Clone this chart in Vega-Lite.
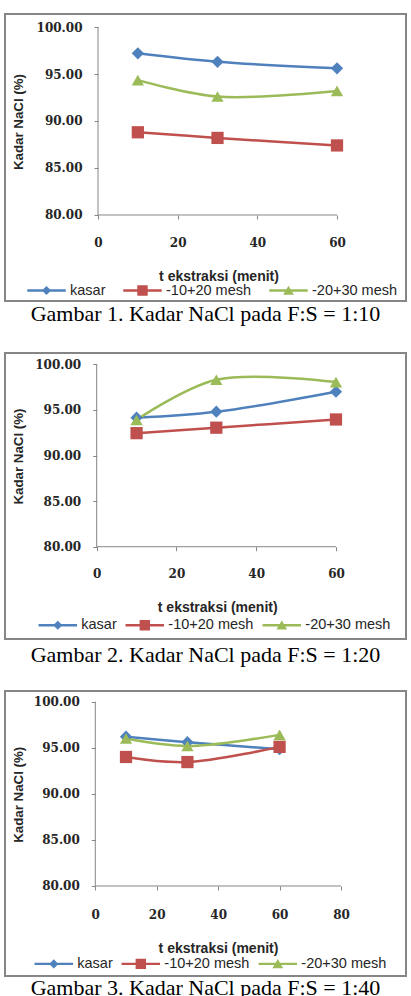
{
  "$schema": "https://vega.github.io/schema/vega-lite/v6.json",
  "padding": {"left": 4, "top": 13, "right": 0, "bottom": 0},
  "background": "white",
  "spacing": 52,
  "bounds": "flush",
  "config": {
    "view": {"stroke": "#868686", "strokeWidth": 2},
    "title": {"font": "Liberation Serif", "fontSize": 22, "fontWeight": "normal", "color": "#000000", "anchor": "middle"},
    "axis": {"domain": false, "grid": false, "tickSize": 4, "tickColor": "#868686", "tickWidth": 1, "labelFont": "DejaVu Serif", "labelFontWeight": "bold", "labelFontSize": 12, "labelColor": "#262626", "labelFlush": false, "labelOverlap": false, "titleFont": "Liberation Sans", "titleFontWeight": "bold", "titleColor": "#262626", "titleBaseline": "middle", "titleAlign": "center"},
    "axisX": {"titleFontSize": 14},
    "axisY": {"titleFontSize": 13.3}
  },
  "datasets": {
    "p1": [
      {"t": 10, "series": "kasar", "kadar": 97.2},
      {"t": 30, "series": "kasar", "kadar": 96.3},
      {"t": 60, "series": "kasar", "kadar": 95.6},
      {"t": 10, "series": "-10+20 mesh", "kadar": 88.8},
      {"t": 30, "series": "-10+20 mesh", "kadar": 88.2},
      {"t": 60, "series": "-10+20 mesh", "kadar": 87.4},
      {"t": 10, "series": "-20+30 mesh", "kadar": 94.35},
      {"t": 30, "series": "-20+30 mesh", "kadar": 92.6},
      {"t": 60, "series": "-20+30 mesh", "kadar": 93.2}
    ],
    "p2": [
      {"t": 10, "series": "kasar", "kadar": 94.15},
      {"t": 30, "series": "kasar", "kadar": 94.8},
      {"t": 60, "series": "kasar", "kadar": 97.0},
      {"t": 10, "series": "-10+20 mesh", "kadar": 92.45},
      {"t": 30, "series": "-10+20 mesh", "kadar": 93.05},
      {"t": 60, "series": "-10+20 mesh", "kadar": 93.95},
      {"t": 10, "series": "-20+30 mesh", "kadar": 93.9},
      {"t": 30, "series": "-20+30 mesh", "kadar": 98.3},
      {"t": 60, "series": "-20+30 mesh", "kadar": 98.05}
    ],
    "p3": [
      {"t": 10, "series": "kasar", "kadar": 96.2},
      {"t": 30, "series": "kasar", "kadar": 95.6},
      {"t": 60, "series": "kasar", "kadar": 94.85},
      {"t": 10, "series": "-10+20 mesh", "kadar": 94.0},
      {"t": 30, "series": "-10+20 mesh", "kadar": 93.45},
      {"t": 60, "series": "-10+20 mesh", "kadar": 95.1},
      {"t": 10, "series": "-20+30 mesh", "kadar": 96.0},
      {"t": 30, "series": "-20+30 mesh", "kadar": 95.2},
      {"t": 60, "series": "-20+30 mesh", "kadar": 96.4}
    ]
  },
  "vconcat": [
    {
      "width": 401,
      "height": 287,
      "title": {"text": "Gambar 1. Kadar NaCl pada F:S = 1:10", "orient": "bottom", "offset": 3},
      "data": {"name": "p1"},
      "resolve": {"scale": {"shape": "independent", "color": "independent"}},
      "layer": [
        {
          "data": {"values": [{}]},
          "mark": {"type": "rule", "color": "#868686", "strokeWidth": 1},
          "encoding": {
            "x": {"datum": 0, "type": "quantitative", "scale": {"domain": [-23.35, 77.32], "nice": false, "zero": false},
              "axis": {"values": [0, 20, 40, 60], "format": "d", "offset": -86, "labelPadding": 18, "title": "t ekstraksi (menit)", "titleX": 213.5, "titleY": 61.3}},
            "x2": {"datum": 60},
            "y": {"datum": 80, "type": "quantitative", "scale": {"domain": [70.851, 101.383], "nice": false, "zero": false},
              "axis": {"values": [80, 85, 90, 95, 100], "format": ".2f", "offset": -93, "labelPadding": 12, "title": "Kadar NaCl (%)", "titleX": -79.7, "titleY": 107.5, "titleAngle": -90}}
          }
        },
        {
          "data": {"values": [{}]},
          "mark": {"type": "rule", "color": "#868686", "strokeWidth": 1},
          "encoding": {
            "x": {"datum": 0, "type": "quantitative", "scale": {"domain": [-23.35, 77.32], "nice": false, "zero": false},
              "axis": {"values": [0, 20, 40, 60], "format": "d", "offset": -86, "labelPadding": 18, "title": "t ekstraksi (menit)", "titleX": 213.5, "titleY": 61.3}},
            "y": {"datum": 80, "type": "quantitative", "scale": {"domain": [70.851, 101.383], "nice": false, "zero": false},
              "axis": {"values": [80, 85, 90, 95, 100], "format": ".2f", "offset": -93, "labelPadding": 12, "title": "Kadar NaCl (%)", "titleX": -79.7, "titleY": 107.5, "titleAngle": -90}},
            "y2": {"datum": 100}
          }
        },
        {
          "mark": {"type": "line", "interpolate": "catmull-rom", "strokeWidth": 2.5},
          "encoding": {
            "x": {"field": "t", "type": "quantitative", "scale": {"domain": [-23.35, 77.32], "nice": false, "zero": false},
              "axis": {"values": [0, 20, 40, 60], "format": "d", "offset": -86, "labelPadding": 18, "title": "t ekstraksi (menit)", "titleX": 213.5, "titleY": 61.3}},
            "y": {"field": "kadar", "type": "quantitative", "scale": {"domain": [70.851, 101.383], "nice": false, "zero": false},
              "axis": {"values": [80, 85, 90, 95, 100], "format": ".2f", "offset": -93, "labelPadding": 12, "title": "Kadar NaCl (%)", "titleX": -79.7, "titleY": 107.5, "titleAngle": -90}},
            "color": {"field": "series", "type": "nominal", "scale": {"domain": ["kasar", "-10+20 mesh", "-20+30 mesh"], "range": ["#4F81BD", "#C0504D", "#9BBB59"]}, "legend": null}
          }
        },
        {
          "mark": {"type": "point", "filled": true, "opacity": 1, "size": 150},
          "encoding": {
            "x": {"field": "t", "type": "quantitative", "scale": {"domain": [-23.35, 77.32], "nice": false, "zero": false},
              "axis": {"values": [0, 20, 40, 60], "format": "d", "offset": -86, "labelPadding": 18, "title": "t ekstraksi (menit)", "titleX": 213.5, "titleY": 61.3}},
            "y": {"field": "kadar", "type": "quantitative", "scale": {"domain": [70.851, 101.383], "nice": false, "zero": false},
              "axis": {"values": [80, 85, 90, 95, 100], "format": ".2f", "offset": -93, "labelPadding": 12, "title": "Kadar NaCl (%)", "titleX": -79.7, "titleY": 107.5, "titleAngle": -90}},
            "color": {"field": "series", "type": "nominal", "scale": {"domain": ["kasar", "-10+20 mesh", "-20+30 mesh"], "range": ["#4F81BD", "#C0504D", "#9BBB59"]}, "legend": null},
            "shape": {"field": "series", "type": "nominal", "scale": {"domain": ["kasar", "-10+20 mesh", "-20+30 mesh"], "range": ["diamond", "square", "triangle-up"]}, "legend": null}
          }
        },
        {
          "mark": {"type": "point", "filled": true, "opacity": 0},
          "encoding": {
            "x": {"field": "t", "type": "quantitative", "scale": {"domain": [-23.35, 77.32], "nice": false, "zero": false},
              "axis": {"values": [0, 20, 40, 60], "format": "d", "offset": -86, "labelPadding": 18, "title": "t ekstraksi (menit)", "titleX": 213.5, "titleY": 61.3}},
            "y": {"field": "kadar", "type": "quantitative", "scale": {"domain": [70.851, 101.383], "nice": false, "zero": false},
              "axis": {"values": [80, 85, 90, 95, 100], "format": ".2f", "offset": -93, "labelPadding": 12, "title": "Kadar NaCl (%)", "titleX": -79.7, "titleY": 107.5, "titleAngle": -90}},
            "color": {"field": "series", "type": "nominal", "scale": {"domain": ["kasar", "-10+20 mesh", "-20+30 mesh"], "range": ["#4F81BD", "#C0504D", "#9BBB59"]},
              "legend": {"orient": "none", "legendX": 22, "legendY": 257, "direction": "horizontal", "columns": 3, "title": null, "padding": 0, "symbolSize": 1482, "symbolStrokeWidth": 0, "symbolOpacity": 1, "labelFont": "Liberation Sans", "labelFontSize": 14.5, "labelColor": "#262626", "labelOffset": 4, "columnPadding": 17, "labelLimit": 200, "encode": {"symbols": {"update": {"opacity": {"value": 1}}}}}},
            "shape": {"field": "series", "type": "nominal", "scale": {"domain": ["kasar", "-10+20 mesh", "-20+30 mesh"], "range": ["M-1,-0.06H1V0.06H-1ZM-0.24,0L0,-0.24L0.24,0L0,0.24Z", "M-1,-0.06H1V0.06H-1ZM-0.27,-0.27H0.27V0.27H-0.27Z", "M-1,-0.06H1V0.06H-1ZM-0.28,0.22L0,-0.25L0.28,0.22Z"]},
              "legend": {"orient": "none", "legendX": 22, "legendY": 257, "direction": "horizontal", "columns": 3, "title": null, "padding": 0, "symbolSize": 1482, "symbolStrokeWidth": 0, "symbolOpacity": 1, "labelFont": "Liberation Sans", "labelFontSize": 14.5, "labelColor": "#262626", "labelOffset": 4, "columnPadding": 17, "labelLimit": 200, "encode": {"symbols": {"update": {"opacity": {"value": 1}}}}}}
          }
        }
      ]
    },
    {
      "width": 401,
      "height": 286,
      "title": {"text": "Gambar 2. Kadar NaCl pada F:S = 1:20", "orient": "bottom", "offset": 6},
      "data": {"name": "p2"},
      "resolve": {"scale": {"shape": "independent", "color": "independent"}},
      "layer": [
        {
          "data": {"values": [{}]},
          "mark": {"type": "rule", "color": "#868686", "strokeWidth": 1},
          "encoding": {
            "x": {"datum": 0, "type": "quantitative", "scale": {"domain": [-22.99, 77.56], "nice": false, "zero": false},
              "axis": {"values": [0, 20, 40, 60], "format": "d", "offset": -92.3, "labelPadding": 17.5, "title": "t ekstraksi (menit)", "titleX": 212.2, "titleY": 61}},
            "x2": {"datum": 60},
            "y": {"datum": 80, "type": "quantitative", "scale": {"domain": [69.88, 101.239], "nice": false, "zero": false},
              "axis": {"values": [80, 85, 90, 95, 100], "format": ".2f", "offset": -91.7, "labelPadding": 12, "title": "Kadar NaCl (%)", "titleX": -78.4, "titleY": 103, "titleAngle": -90}}
          }
        },
        {
          "data": {"values": [{}]},
          "mark": {"type": "rule", "color": "#868686", "strokeWidth": 1},
          "encoding": {
            "x": {"datum": 0, "type": "quantitative", "scale": {"domain": [-22.99, 77.56], "nice": false, "zero": false},
              "axis": {"values": [0, 20, 40, 60], "format": "d", "offset": -92.3, "labelPadding": 17.5, "title": "t ekstraksi (menit)", "titleX": 212.2, "titleY": 61}},
            "y": {"datum": 80, "type": "quantitative", "scale": {"domain": [69.88, 101.239], "nice": false, "zero": false},
              "axis": {"values": [80, 85, 90, 95, 100], "format": ".2f", "offset": -91.7, "labelPadding": 12, "title": "Kadar NaCl (%)", "titleX": -78.4, "titleY": 103, "titleAngle": -90}},
            "y2": {"datum": 100}
          }
        },
        {
          "mark": {"type": "line", "interpolate": "catmull-rom", "strokeWidth": 2.5},
          "encoding": {
            "x": {"field": "t", "type": "quantitative", "scale": {"domain": [-22.99, 77.56], "nice": false, "zero": false},
              "axis": {"values": [0, 20, 40, 60], "format": "d", "offset": -92.3, "labelPadding": 17.5, "title": "t ekstraksi (menit)", "titleX": 212.2, "titleY": 61}},
            "y": {"field": "kadar", "type": "quantitative", "scale": {"domain": [69.88, 101.239], "nice": false, "zero": false},
              "axis": {"values": [80, 85, 90, 95, 100], "format": ".2f", "offset": -91.7, "labelPadding": 12, "title": "Kadar NaCl (%)", "titleX": -78.4, "titleY": 103, "titleAngle": -90}},
            "color": {"field": "series", "type": "nominal", "scale": {"domain": ["kasar", "-10+20 mesh", "-20+30 mesh"], "range": ["#4F81BD", "#C0504D", "#9BBB59"]}, "legend": null}
          }
        },
        {
          "mark": {"type": "point", "filled": true, "opacity": 1, "size": 150},
          "encoding": {
            "x": {"field": "t", "type": "quantitative", "scale": {"domain": [-22.99, 77.56], "nice": false, "zero": false},
              "axis": {"values": [0, 20, 40, 60], "format": "d", "offset": -92.3, "labelPadding": 17.5, "title": "t ekstraksi (menit)", "titleX": 212.2, "titleY": 61}},
            "y": {"field": "kadar", "type": "quantitative", "scale": {"domain": [69.88, 101.239], "nice": false, "zero": false},
              "axis": {"values": [80, 85, 90, 95, 100], "format": ".2f", "offset": -91.7, "labelPadding": 12, "title": "Kadar NaCl (%)", "titleX": -78.4, "titleY": 103, "titleAngle": -90}},
            "color": {"field": "series", "type": "nominal", "scale": {"domain": ["kasar", "-10+20 mesh", "-20+30 mesh"], "range": ["#4F81BD", "#C0504D", "#9BBB59"]}, "legend": null},
            "shape": {"field": "series", "type": "nominal", "scale": {"domain": ["kasar", "-10+20 mesh", "-20+30 mesh"], "range": ["diamond", "square", "triangle-up"]}, "legend": null}
          }
        },
        {
          "mark": {"type": "point", "filled": true, "opacity": 0},
          "encoding": {
            "x": {"field": "t", "type": "quantitative", "scale": {"domain": [-22.99, 77.56], "nice": false, "zero": false},
              "axis": {"values": [0, 20, 40, 60], "format": "d", "offset": -92.3, "labelPadding": 17.5, "title": "t ekstraksi (menit)", "titleX": 212.2, "titleY": 61}},
            "y": {"field": "kadar", "type": "quantitative", "scale": {"domain": [69.88, 101.239], "nice": false, "zero": false},
              "axis": {"values": [80, 85, 90, 95, 100], "format": ".2f", "offset": -91.7, "labelPadding": 12, "title": "Kadar NaCl (%)", "titleX": -78.4, "titleY": 103, "titleAngle": -90}},
            "color": {"field": "series", "type": "nominal", "scale": {"domain": ["kasar", "-10+20 mesh", "-20+30 mesh"], "range": ["#4F81BD", "#C0504D", "#9BBB59"]},
              "legend": {"orient": "none", "legendX": 33.3, "legendY": 252.75, "direction": "horizontal", "columns": 3, "title": null, "padding": 0, "symbolSize": 1482, "symbolStrokeWidth": 0, "symbolOpacity": 1, "labelFont": "Liberation Sans", "labelFontSize": 14.5, "labelColor": "#262626", "labelOffset": 4, "columnPadding": 8, "labelLimit": 200, "encode": {"symbols": {"update": {"opacity": {"value": 1}}}}}},
            "shape": {"field": "series", "type": "nominal", "scale": {"domain": ["kasar", "-10+20 mesh", "-20+30 mesh"], "range": ["M-1,-0.06H1V0.06H-1ZM-0.24,0L0,-0.24L0.24,0L0,0.24Z", "M-1,-0.06H1V0.06H-1ZM-0.27,-0.27H0.27V0.27H-0.27Z", "M-1,-0.06H1V0.06H-1ZM-0.28,0.22L0,-0.25L0.28,0.22Z"]},
              "legend": {"orient": "none", "legendX": 33.3, "legendY": 252.75, "direction": "horizontal", "columns": 3, "title": null, "padding": 0, "symbolSize": 1482, "symbolStrokeWidth": 0, "symbolOpacity": 1, "labelFont": "Liberation Sans", "labelFontSize": 14.5, "labelColor": "#262626", "labelOffset": 4, "columnPadding": 8, "labelLimit": 200, "encode": {"symbols": {"update": {"opacity": {"value": 1}}}}}}
          }
        }
      ]
    },
    {
      "width": 401,
      "height": 285,
      "title": {"text": "Gambar 3. Kadar NaCl pada F:S = 1:40", "orient": "bottom", "offset": 2},
      "data": {"name": "p3"},
      "resolve": {"scale": {"shape": "independent", "color": "independent"}},
      "layer": [
        {
          "data": {"values": [{}]},
          "mark": {"type": "rule", "color": "#868686", "strokeWidth": 1},
          "encoding": {
            "x": {"datum": 0, "type": "quantitative", "scale": {"domain": [-29.4, 101.17], "nice": false, "zero": false},
              "axis": {"values": [0, 20, 40, 60, 80], "format": "d", "offset": -90, "labelPadding": 19, "title": "t ekstraksi (menit)", "titleX": 213, "titleY": 62.7}},
            "x2": {"datum": 80},
            "y": {"datum": 80, "type": "quantitative", "scale": {"domain": [70.233, 101.161], "nice": false, "zero": false},
              "axis": {"values": [80, 85, 90, 95, 100], "format": ".2f", "offset": -90.3, "labelPadding": 12, "title": "Kadar NaCl (%)", "titleX": -77, "titleY": 103.3, "titleAngle": -90}}
          }
        },
        {
          "data": {"values": [{}]},
          "mark": {"type": "rule", "color": "#868686", "strokeWidth": 1},
          "encoding": {
            "x": {"datum": 0, "type": "quantitative", "scale": {"domain": [-29.4, 101.17], "nice": false, "zero": false},
              "axis": {"values": [0, 20, 40, 60, 80], "format": "d", "offset": -90, "labelPadding": 19, "title": "t ekstraksi (menit)", "titleX": 213, "titleY": 62.7}},
            "y": {"datum": 80, "type": "quantitative", "scale": {"domain": [70.233, 101.161], "nice": false, "zero": false},
              "axis": {"values": [80, 85, 90, 95, 100], "format": ".2f", "offset": -90.3, "labelPadding": 12, "title": "Kadar NaCl (%)", "titleX": -77, "titleY": 103.3, "titleAngle": -90}},
            "y2": {"datum": 100}
          }
        },
        {
          "mark": {"type": "line", "interpolate": "catmull-rom", "strokeWidth": 2.5},
          "encoding": {
            "x": {"field": "t", "type": "quantitative", "scale": {"domain": [-29.4, 101.17], "nice": false, "zero": false},
              "axis": {"values": [0, 20, 40, 60, 80], "format": "d", "offset": -90, "labelPadding": 19, "title": "t ekstraksi (menit)", "titleX": 213, "titleY": 62.7}},
            "y": {"field": "kadar", "type": "quantitative", "scale": {"domain": [70.233, 101.161], "nice": false, "zero": false},
              "axis": {"values": [80, 85, 90, 95, 100], "format": ".2f", "offset": -90.3, "labelPadding": 12, "title": "Kadar NaCl (%)", "titleX": -77, "titleY": 103.3, "titleAngle": -90}},
            "color": {"field": "series", "type": "nominal", "scale": {"domain": ["kasar", "-10+20 mesh", "-20+30 mesh"], "range": ["#4F81BD", "#C0504D", "#9BBB59"]}, "legend": null}
          }
        },
        {
          "mark": {"type": "point", "filled": true, "opacity": 1, "size": 150},
          "encoding": {
            "x": {"field": "t", "type": "quantitative", "scale": {"domain": [-29.4, 101.17], "nice": false, "zero": false},
              "axis": {"values": [0, 20, 40, 60, 80], "format": "d", "offset": -90, "labelPadding": 19, "title": "t ekstraksi (menit)", "titleX": 213, "titleY": 62.7}},
            "y": {"field": "kadar", "type": "quantitative", "scale": {"domain": [70.233, 101.161], "nice": false, "zero": false},
              "axis": {"values": [80, 85, 90, 95, 100], "format": ".2f", "offset": -90.3, "labelPadding": 12, "title": "Kadar NaCl (%)", "titleX": -77, "titleY": 103.3, "titleAngle": -90}},
            "color": {"field": "series", "type": "nominal", "scale": {"domain": ["kasar", "-10+20 mesh", "-20+30 mesh"], "range": ["#4F81BD", "#C0504D", "#9BBB59"]}, "legend": null},
            "shape": {"field": "series", "type": "nominal", "scale": {"domain": ["kasar", "-10+20 mesh", "-20+30 mesh"], "range": ["diamond", "square", "triangle-up"]}, "legend": null}
          }
        },
        {
          "mark": {"type": "point", "filled": true, "opacity": 0},
          "encoding": {
            "x": {"field": "t", "type": "quantitative", "scale": {"domain": [-29.4, 101.17], "nice": false, "zero": false},
              "axis": {"values": [0, 20, 40, 60, 80], "format": "d", "offset": -90, "labelPadding": 19, "title": "t ekstraksi (menit)", "titleX": 213, "titleY": 62.7}},
            "y": {"field": "kadar", "type": "quantitative", "scale": {"domain": [70.233, 101.161], "nice": false, "zero": false},
              "axis": {"values": [80, 85, 90, 95, 100], "format": ".2f", "offset": -90.3, "labelPadding": 12, "title": "Kadar NaCl (%)", "titleX": -77, "titleY": 103.3, "titleAngle": -90}},
            "color": {"field": "series", "type": "nominal", "scale": {"domain": ["kasar", "-10+20 mesh", "-20+30 mesh"], "range": ["#4F81BD", "#C0504D", "#9BBB59"]},
              "legend": {"orient": "none", "legendX": 29.3, "legendY": 253.4, "direction": "horizontal", "columns": 3, "title": null, "padding": 0, "symbolSize": 1482, "symbolStrokeWidth": 0, "symbolOpacity": 1, "labelFont": "Liberation Sans", "labelFontSize": 14.5, "labelColor": "#262626", "labelOffset": 4, "columnPadding": 8, "labelLimit": 200, "encode": {"symbols": {"update": {"opacity": {"value": 1}}}}}},
            "shape": {"field": "series", "type": "nominal", "scale": {"domain": ["kasar", "-10+20 mesh", "-20+30 mesh"], "range": ["M-1,-0.06H1V0.06H-1ZM-0.24,0L0,-0.24L0.24,0L0,0.24Z", "M-1,-0.06H1V0.06H-1ZM-0.27,-0.27H0.27V0.27H-0.27Z", "M-1,-0.06H1V0.06H-1ZM-0.28,0.22L0,-0.25L0.28,0.22Z"]},
              "legend": {"orient": "none", "legendX": 29.3, "legendY": 253.4, "direction": "horizontal", "columns": 3, "title": null, "padding": 0, "symbolSize": 1482, "symbolStrokeWidth": 0, "symbolOpacity": 1, "labelFont": "Liberation Sans", "labelFontSize": 14.5, "labelColor": "#262626", "labelOffset": 4, "columnPadding": 8, "labelLimit": 200, "encode": {"symbols": {"update": {"opacity": {"value": 1}}}}}}
          }
        }
      ]
    }
  ]
}
